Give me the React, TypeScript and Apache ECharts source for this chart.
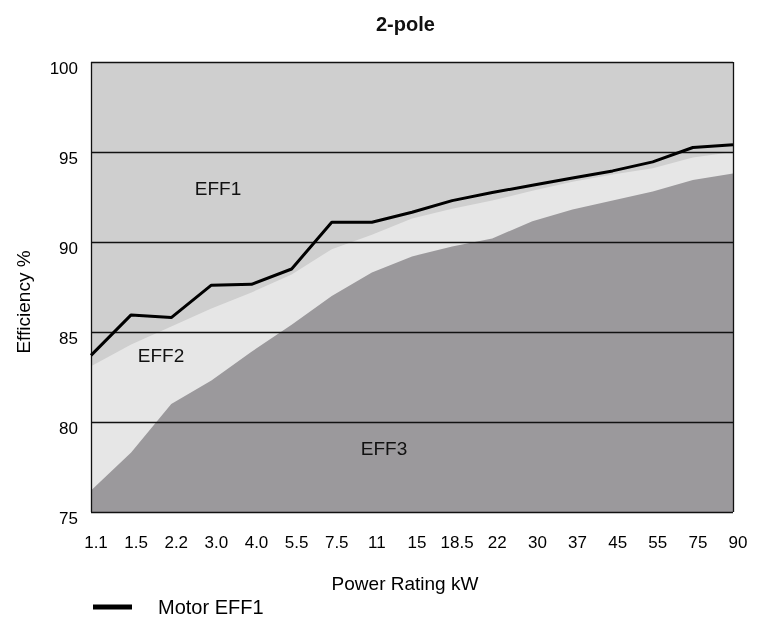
import React, { useEffect, useRef } from 'react';
import * as echarts from 'echarts';

// Motor power ratings (kW)
const categories = ['1.1', '1.5', '2.2', '3.0', '4.0', '5.5', '7.5', '11', '15', '18.5', '22', '30', '37', '45', '55', '75', '90'];

// Motor EFF1 efficiency line (%)
const motorEff1 = [83.7, 85.95, 85.8, 87.6, 87.65, 88.5, 91.1, 91.1, 91.65, 92.3, 92.75, 93.15, 93.55, 93.95, 94.45, 95.25, 95.4];

// Upper boundary of EFF2 band (EFF1/EFF2 limit)
const eff2Top = [83.1, 84.3, 85.3, 86.3, 87.2, 88.2, 89.6, 90.4, 91.3, 91.85, 92.3, 92.85, 93.35, 93.75, 94.1, 94.7, 95.0];

// Upper boundary of EFF3 band (EFF2/EFF3 limit)
const eff3Top = [76.2, 78.3, 81.0, 82.3, 83.9, 85.4, 87.0, 88.3, 89.2, 89.75, 90.2, 91.15, 91.8, 92.3, 92.8, 93.45, 93.8];

// Horizontal reference lines
const yTicks = [75, 80, 85, 90, 95, 100];

// Zone labels
const zoneLabels = ['EFF1', 'EFF2', 'EFF3'];

export default function App() {
  const ref = useRef<HTMLDivElement>(null);

  useEffect(() => {
    if (!ref.current) return;
    const chart = echarts.init(ref.current, null, { renderer: 'svg' });
    const font = 'Liberation Sans, Arial, Helvetica, sans-serif';
    const labelPos = [
      [218, 188],
      [161, 355],
      [384, 448],
    ];

    chart.setOption({
      animation: false,
      textStyle: { fontFamily: font, color: '#000' },
      title: {
        text: '2-pole',
        left: 376,
        top: 14,
        padding: 0,
        textStyle: { fontSize: 20, fontWeight: 'bold', color: '#111', fontFamily: font },
      },
      grid: {
        left: 91,
        right: 32,
        top: 62,
        bottom: 105,
        show: true,
        backgroundColor: '#cfcfcf',
        borderWidth: 0,
      },
      legend: {
        left: 93,
        top: 597,
        padding: 0,
        itemWidth: 39,
        itemHeight: 5,
        data: [{ name: 'Motor EFF1', icon: 'rect', itemStyle: { color: '#000' } }],
        textStyle: { fontSize: 20, color: '#000', fontFamily: font, padding: [0, 0, 0, 21] },
      },
      xAxis: {
        type: 'category',
        data: categories,
        boundaryGap: false,
        axisLine: { show: false },
        axisTick: { show: false },
        splitLine: { show: false },
        axisLabel: { fontSize: 17, margin: 22, padding: [0, 0, 0, 10], color: '#000', interval: 0, fontFamily: font },
        name: 'Power Rating kW',
        nameLocation: 'middle',
        nameGap: 62,
        nameTextStyle: { fontSize: 19, color: '#000', fontFamily: font, padding: [0, 14, 0, 0] },
      },
      yAxis: {
        type: 'value',
        min: 75,
        max: 100,
        interval: 5,
        axisLine: { show: false },
        axisTick: { show: false },
        splitLine: { show: false },
        axisLabel: {
          fontSize: 17,
          margin: 13,
          verticalAlign: 'top',
          lineHeight: 13,
          color: '#000',
          fontFamily: font,
        },
        name: 'Efficiency %',
        nameLocation: 'middle',
        nameGap: 58,
        nameTextStyle: { fontSize: 19, color: '#000', fontFamily: font, padding: [0, 30, 0, 0] },
      },
      graphic: zoneLabels.map((t, i) => ({
        type: 'text',
        x: labelPos[i][0],
        y: labelPos[i][1],
        z: 100,
        silent: true,
        style: {
          text: t,
          fill: '#111',
          font: `19px ${font}`,
          align: 'center',
          verticalAlign: 'middle',
        },
      })),
      series: [
        {
          name: 'EFF2',
          type: 'line',
          data: eff2Top,
          symbol: 'none',
          silent: true,
          z: 2,
          lineStyle: { width: 0 },
          areaStyle: { color: '#e6e6e6', opacity: 1, origin: 'start' },
        },
        {
          name: 'EFF3',
          type: 'line',
          data: eff3Top,
          symbol: 'none',
          silent: true,
          z: 3,
          lineStyle: { width: 0 },
          areaStyle: { color: '#9b999c', opacity: 1, origin: 'start' },
          markLine: {
            silent: true,
            z: 5,
            symbol: ['none', 'none'],
            label: { show: false },
            lineStyle: { color: '#111', width: 1.3, type: 'solid' },
            data: [
              ...yTicks.map((v) => ({ yAxis: v })),
              { xAxis: categories[0] },
              { xAxis: categories[categories.length - 1] },
            ],
          },
        },
        {
          name: 'Motor EFF1',
          type: 'line',
          data: motorEff1,
          symbol: 'none',
          z: 10,
          lineStyle: { color: '#000', width: 3 },
          itemStyle: { color: '#000' },
        },
      ],
    });

    return () => chart.dispose();
  }, []);

  return <div ref={ref} style={{ position: 'fixed', left: 0, top: 0, width: 765, height: 617 }} />;
}
